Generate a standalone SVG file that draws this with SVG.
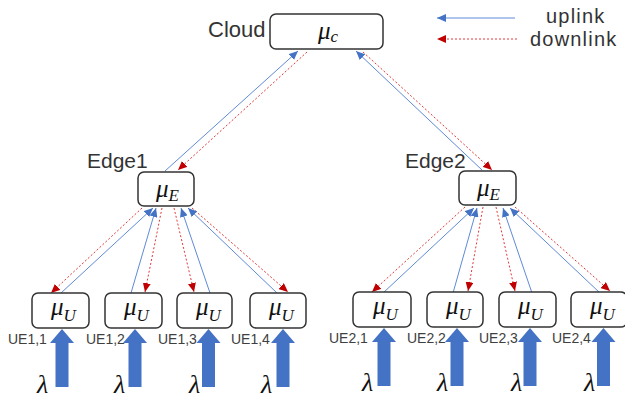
<svg xmlns="http://www.w3.org/2000/svg" xmlns:xlink="http://www.w3.org/1999/xlink" width="625" height="402" viewBox="0 0 625 402">
<style>
.box{fill:#fff;stroke:#333;stroke-width:1.5}
.lbl{font-family:"Liberation Sans","Noto Sans",sans-serif;fill:#333}
.ue{font-family:"Liberation Sans","Noto Sans",sans-serif;fill:#404040;font-size:14px}
.mu{font-family:"Liberation Serif","DejaVu Serif",serif;font-style:italic;fill:#111;font-size:25px}
.sub{font-size:17px}
.lam{font-family:"Liberation Serif","DejaVu Serif",serif;font-style:italic;fill:#111;font-size:26px}
.up{stroke:#5f8ad6;stroke-width:1;fill:none;marker-end:url(#ah-b)}
.dn{stroke:#e23a3a;stroke-width:1;fill:none;stroke-dasharray:2 2;marker-end:url(#ah-r)}
.blk{fill:#4472c4}
</style>
<defs>
<marker id="ah-b" markerUnits="userSpaceOnUse" markerWidth="9" markerHeight="8" refX="9" refY="4" orient="auto"><path d="M0,0 L9,4 L0,8 z" fill="#4472c4"/></marker>
<marker id="ah-r" markerUnits="userSpaceOnUse" markerWidth="9" markerHeight="8" refX="9" refY="4" orient="auto"><path d="M0,0 L9,4 L0,8 z" fill="#c00000"/></marker>
<path id="bigarrow" class="blk" d="M0,0 L12,14 L6.5,14 L6.5,58 L-6.5,58 L-6.5,14 L-12,14 Z"/>
</defs>

<g id="legend">
<line class="up" x1="515" y1="18" x2="437" y2="18"/>
<line class="dn" x1="517" y1="39" x2="437" y2="39"/>
<text class="lbl" x="546" y="23" font-size="20" letter-spacing="1.2">uplink</text>
<text class="lbl" x="530" y="46" font-size="20" letter-spacing="1.2">downlink</text>
</g>

<g id="connectors">
<line class="up" x1="165" y1="171" x2="298" y2="51"/>
<line class="dn" x1="307" y1="52" x2="178" y2="170"/>
<line class="up" x1="482" y1="170" x2="356" y2="51"/>
<line class="dn" x1="363" y1="52" x2="492" y2="170"/>

<line class="dn" x1="142" y1="208" x2="51" y2="293"/>
<line class="up" x1="61" y1="293" x2="153" y2="208"/>
<line class="dn" x1="162" y1="208" x2="145" y2="292"/>
<line class="up" x1="131" y1="293" x2="156" y2="208"/>
<line class="dn" x1="174" y1="208" x2="194" y2="292"/>
<line class="up" x1="210" y1="293" x2="181" y2="208"/>
<line class="dn" x1="192" y1="208" x2="288" y2="292"/>
<line class="up" x1="277" y1="293" x2="188" y2="208"/>

<line class="dn" x1="465" y1="207" x2="372" y2="292"/>
<line class="up" x1="383" y1="293" x2="474" y2="208"/>
<line class="dn" x1="483" y1="207" x2="468" y2="291"/>
<line class="up" x1="453" y1="293" x2="477" y2="208"/>
<line class="dn" x1="496" y1="207" x2="515" y2="291"/>
<line class="up" x1="532" y1="293" x2="503" y2="208"/>
<line class="dn" x1="515" y1="207" x2="610" y2="291"/>
<line class="up" x1="600" y1="293" x2="510" y2="208"/>
</g>

<g id="cloud">
<text class="lbl" x="208" y="37" font-size="22">Cloud</text>
<rect class="box" x="270" y="14" width="113" height="35" rx="6"/>
<text class="mu" x="318" y="39">μ<tspan class="sub" dy="3">c</tspan></text>
</g>

<g id="edge1">
<text class="lbl" x="87" y="168" font-size="21">Edge1</text>
<rect class="box" x="138" y="172" width="56" height="34" rx="6"/>
<text class="mu" x="156" y="197">μ<tspan class="sub" dy="4">E</tspan></text>
</g>

<g id="edge2">
<text class="lbl" x="405" y="168" font-size="21">Edge2</text>
<rect class="box" x="459" y="171" width="57" height="34" rx="6"/>
<text class="mu" x="477" y="196">μ<tspan class="sub" dy="4">E</tspan></text>
</g>

<g id="ue11">
<rect class="box" x="32" y="293" width="57" height="35" rx="6"/>
<text class="mu" x="51" y="315">μ<tspan class="sub" dy="6">U</tspan></text>
<text class="ue" x="8" y="344">UE1,1</text>
<use xlink:href="#bigarrow" x="62" y="329"/>
<text class="lam" x="37" y="393">λ</text>
</g>
<g id="ue12">
<rect class="box" x="105" y="293" width="57" height="35" rx="6"/>
<text class="mu" x="124" y="315">μ<tspan class="sub" dy="6">U</tspan></text>
<text class="ue" x="86" y="344">UE1,2</text>
<use xlink:href="#bigarrow" x="135" y="329"/>
<text class="lam" x="114" y="393">λ</text>
</g>
<g id="ue13">
<rect class="box" x="177" y="293" width="55" height="35" rx="6"/>
<text class="mu" x="196" y="315">μ<tspan class="sub" dy="6">U</tspan></text>
<text class="ue" x="158" y="344">UE1,3</text>
<use xlink:href="#bigarrow" x="208.5" y="329"/>
<text class="lam" x="189" y="393">λ</text>
</g>
<g id="ue14">
<rect class="box" x="250" y="293" width="56" height="35" rx="6"/>
<text class="mu" x="269" y="315">μ<tspan class="sub" dy="6">U</tspan></text>
<text class="ue" x="231" y="344">UE1,4</text>
<use xlink:href="#bigarrow" x="283" y="329"/>
<text class="lam" x="261" y="393">λ</text>
</g>

<g id="ue21">
<rect class="box" x="353" y="292" width="58" height="35" rx="6"/>
<text class="mu" x="373" y="314">μ<tspan class="sub" dy="6">U</tspan></text>
<text class="ue" x="329" y="343">UE2,1</text>
<use xlink:href="#bigarrow" x="384" y="328"/>
<text class="lam" x="362" y="391">λ</text>
</g>
<g id="ue22">
<rect class="box" x="427" y="292" width="56" height="35" rx="6"/>
<text class="mu" x="446" y="314">μ<tspan class="sub" dy="6">U</tspan></text>
<text class="ue" x="407" y="343">UE2,2</text>
<use xlink:href="#bigarrow" x="457" y="328"/>
<text class="lam" x="437" y="391">λ</text>
</g>
<g id="ue23">
<rect class="box" x="499" y="292" width="57" height="35" rx="6"/>
<text class="mu" x="518" y="314">μ<tspan class="sub" dy="6">U</tspan></text>
<text class="ue" x="479" y="343">UE2,3</text>
<use xlink:href="#bigarrow" x="530" y="328"/>
<text class="lam" x="511" y="391">λ</text>
</g>
<g id="ue24">
<rect class="box" x="571" y="292" width="56" height="35" rx="6"/>
<text class="mu" x="590" y="314">μ<tspan class="sub" dy="6">U</tspan></text>
<text class="ue" x="552" y="343">UE2,4</text>
<use xlink:href="#bigarrow" x="603.5" y="328"/>
<text class="lam" x="584" y="391">λ</text>
</g>
</svg>
